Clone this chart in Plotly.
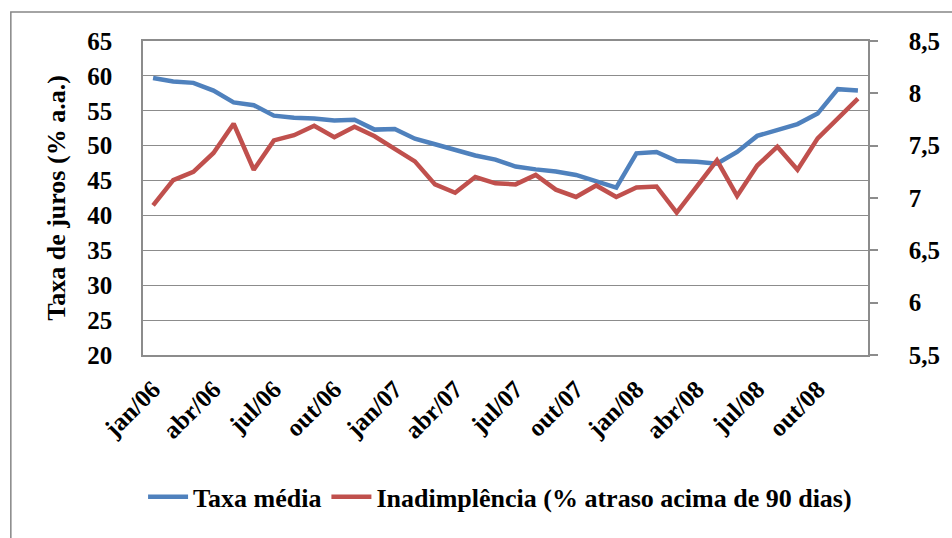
import plotly.graph_objects as go

months = ["jan", "fev", "mar", "abr", "mai", "jun", "jul", "ago", "set", "out", "nov", "dez"]
years = ["06", "07", "08"]
categories = [f"{m}/{y}" for y in years for m in months]

taxa_media = [59.7, 59.2, 59.0, 57.9, 56.2, 55.8, 54.3, 54.0, 53.9, 53.6, 53.7, 52.3,
              52.4, 51.0, 50.2, 49.4, 48.6, 48.0, 47.0, 46.6, 46.3, 45.8, 44.9, 44.0,
              48.9, 49.1, 47.8, 47.7, 47.4, 49.1, 51.4, 52.3, 53.1, 54.6, 58.1, 57.9]

inadimplencia = [6.93, 7.17, 7.25, 7.43, 7.71, 7.27, 7.55, 7.60, 7.69, 7.58, 7.68, 7.59,
                 7.47, 7.35, 7.13, 7.05, 7.20, 7.14, 7.13, 7.22, 7.08, 7.01, 7.12, 7.01,
                 7.10, 7.11, 6.86, 7.11, 7.36, 7.02, 7.31, 7.49, 7.27, 7.57, 7.76, 7.95]

tick_labels = categories[::3]

FONT = "Liberation Serif"
GRID = "#8c8c8c"
TICKFONT = dict(family=FONT, size=25, color="black", weight="bold")

fig = go.Figure()
fig.add_trace(go.Scatter(x=categories, y=taxa_media, name="Taxa média", mode="lines",
                         line=dict(color="#4F81BD", width=4.5)))
fig.add_trace(go.Scatter(x=categories, y=inadimplencia, name="Inadimplência (% atraso acima de 90 dias)",
                         mode="lines", line=dict(color="#C0504D", width=4.5), yaxis="y2"))

fig.update_layout(
    width=952, height=538,
    margin=dict(l=143, r=74, t=41, b=183),
    paper_bgcolor="white", plot_bgcolor="white",
    separators=",.",
    font=dict(family=FONT, size=25, color="black", weight="bold"),
    showlegend=True,
    legend=dict(orientation="h", x=0.4925, xanchor="center", y=-0.452, yanchor="middle",
                font=dict(family=FONT, size=26, color="black", weight="bold"),
                itemwidth=40, tracegroupgap=0, bgcolor="rgba(0,0,0,0)"),
    xaxis=dict(type="category", categoryorder="array", categoryarray=categories,
               range=[-0.5, 35.5], tickmode="array", tickvals=tick_labels, ticktext=tick_labels,
               tickangle=-45, showgrid=False, ticks="", showline=True, linecolor=GRID,
               linewidth=1.5, mirror=True, ticklabelstandoff=8, tickfont=TICKFONT),
    yaxis=dict(range=[20, 65], dtick=5, tick0=20, showgrid=True, gridcolor=GRID, gridwidth=1.3,
               showline=True, linecolor=GRID, linewidth=1.5, mirror=True, ticks="",
               ticklabelstandoff=24, zeroline=False,
               title=dict(text="Taxa de juros (% a.a.)", standoff=14,
                          font=dict(family=FONT, size=26, color="black", weight="bold")),
               tickfont=TICKFONT),
    yaxis2=dict(range=[5.5, 8.5], dtick=0.5, tick0=5.5, overlaying="y", side="right",
                showgrid=False, showline=True, linecolor=GRID, linewidth=1.5,
                ticks="outside", ticklen=8, tickcolor=GRID, tickwidth=1.5,
                ticklabelstandoff=26, zeroline=False, tickfont=TICKFONT),
    shapes=[dict(type="rect", xref="paper", yref="paper", x0=-0.1823, x1=1.12,
                 y0=-0.62, y1=1.0924, line=dict(color="#868686", width=1.5),
                 fillcolor="rgba(0,0,0,0)", layer="below")],
)

fig.write_html("out.html", config={"displayModeBar": False},
               post_script="document.body.style.margin='0';")
